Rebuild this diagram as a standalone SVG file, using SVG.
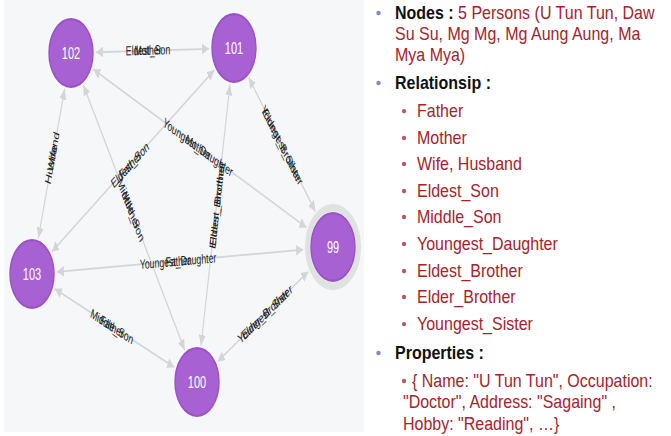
<svg xmlns="http://www.w3.org/2000/svg" width="671" height="436" viewBox="0 0 671 436">
<defs>
<style>
.edge{stroke:#d3d5d7;stroke-width:1.2;fill:none;marker-start:url(#arr);marker-end:url(#arr)}
.elab{font-family:"Liberation Sans",Arial,sans-serif;font-size:8.7px;fill:#1e1e1e;text-anchor:middle}
.node{fill:#a761d2;stroke:#9a52c6;stroke-width:1.4}
.nlab{font-family:"Liberation Sans",Arial,sans-serif;font-size:11px;fill:#ffffff;text-anchor:middle}
.t{font-family:"Liberation Sans",Arial,sans-serif;font-size:16px}
.h{font-weight:bold;fill:#111111}
.r{fill:#a8222c}
.b1{fill:#7d8cbc}
.b2{fill:#c0575b}
</style>
<marker id="arr" markerUnits="userSpaceOnUse" markerWidth="7" markerHeight="7" refX="7" refY="3.5" orient="auto-start-reverse">
<path d="M0,0 L7,3.5 L0,7 z" fill="#d3d5d7"/>
</marker>
</defs>
<rect x="0" y="0" width="671" height="436" fill="#ffffff"/>
<rect x="4" y="0" width="360" height="432" fill="#f6f7f9"/>
<g transform="scale(1,1.54)">
<g id="connectors">
<line class="edge" x1="96" y1="33.9" x2="209" y2="31.7"/>
<line class="edge" x1="64.7" y1="57.7" x2="38.3" y2="154.7"/>
<line class="edge" x1="83.3" y1="55.2" x2="184.7" y2="227.3"/>
<line class="edge" x1="93.3" y1="45.1" x2="306.5" y2="147.7"/>
<line class="edge" x1="214.2" y1="45.6" x2="51.8" y2="163.5"/>
<line class="edge" x1="230" y1="54.9" x2="201" y2="224.4"/>
<line class="edge" x1="248.7" y1="50.4" x2="315.4" y2="137.4"/>
<line class="edge" x1="56.9" y1="176.5" x2="303.1" y2="162.1"/>
<line class="edge" x1="217.7" y1="234.7" x2="308.2" y2="176.4"/>
<line class="edge" x1="54.8" y1="187.6" x2="174.2" y2="238.4"/>
<g transform="translate(148,32.5) rotate(-1.1)"><text class="elab" dy="0.35em">Eldest_Son</text><text class="elab" dy="0.35em">Mother</text></g>
<g transform="translate(52,102.6) rotate(-74.8)"><text class="elab" dy="0.35em">Husband</text><text class="elab" dy="0.35em">Wife</text></g>
<g transform="translate(131,136.4) rotate(59.5)"><text class="elab" dy="0.35em">Middle_Son</text><text class="elab" dy="0.35em">Mother</text></g>
<g transform="translate(198,95.5) rotate(25.7)"><text class="elab" dy="0.35em">Youngest_Daughter</text><text class="elab" dy="0.35em">Mother</text></g>
<g transform="translate(130,107.1) rotate(-36)"><text class="elab" dy="0.35em">Eldest_Son</text><text class="elab" dy="0.35em">Father</text></g>
<g transform="translate(217,133.1) rotate(-80.3)"><text class="elab" dy="0.35em">Eldest_Brother</text><text class="elab" dy="0.35em">Elder_Brother</text></g>
<g transform="translate(282,94.2) rotate(52.5)"><text class="elab" dy="0.35em">Youngest_Sister</text><text class="elab" dy="0.35em">Eldest_Brother</text></g>
<g transform="translate(178,169.5) rotate(-3.3)"><text class="elab" dy="0.35em">Youngest_Daughter</text><text class="elab" dy="0.35em">Father</text></g>
<g transform="translate(265,203.9) rotate(-32.8)"><text class="elab" dy="0.35em">Youngest_Sister</text><text class="elab" dy="0.35em">Elder_Brother</text></g>
<g transform="translate(112,212) rotate(23)"><text class="elab" dy="0.35em">Middle_Son</text><text class="elab" dy="0.35em">Father</text></g>
</g>
<g id="node-102"><circle class="node" cx="71" cy="34.4" r="22"/><text class="nlab" x="71" y="38.3">102</text></g>
<g id="node-101"><circle class="node" cx="234" cy="31.2" r="22"/><text class="nlab" x="234" y="35.1">101</text></g>
<g id="node-99"><circle cx="333" cy="160.4" r="25.5" fill="none" stroke="#dfe3e0" stroke-width="5"/><circle class="node" cx="333" cy="160.4" r="22"/><text class="nlab" x="333" y="164.3">99</text></g>
<g id="node-103"><circle class="node" cx="32" cy="177.9" r="22"/><text class="nlab" x="32" y="181.8">103</text></g>
<g id="node-100"><circle class="node" cx="197" cy="248.1" r="22"/><text class="nlab" x="197" y="252">100</text></g>
</g>
<g id="legend" transform="scale(1,1.15)">
<ellipse class="b1" cx="378.5" cy="11.3" rx="2.2" ry="1.9"/>
<text class="t" x="395" y="16.52"><tspan class="h">Nodes : </tspan><tspan class="r">5 Persons (U Tun Tun, Daw</tspan></text>
<text class="t r" x="395" y="34.78">Su Su, Mg Mg, Mg Aung Aung, Ma</text>
<text class="t r" x="395" y="53.04">Mya Mya)</text>
<ellipse class="b1" cx="378.5" cy="72.2" rx="2.2" ry="1.9"/>
<text class="t h" x="395" y="77.39">Relationsip :</text>
<ellipse class="b2" cx="404" cy="96.6" rx="2.2" ry="1.9"/>
<text class="t r" x="417" y="101.74">Father</text>
<ellipse class="b2" cx="404" cy="120" rx="2.2" ry="1.9"/>
<text class="t r" x="417" y="125.22">Mother</text>
<ellipse class="b2" cx="404" cy="142.6" rx="2.2" ry="1.9"/>
<text class="t r" x="417" y="147.83">Wife, Husband</text>
<ellipse class="b2" cx="404" cy="166.1" rx="2.2" ry="1.9"/>
<text class="t r" x="417" y="171.3">Eldest_Son</text>
<ellipse class="b2" cx="404" cy="188.7" rx="2.2" ry="1.9"/>
<text class="t r" x="417" y="193.91">Middle_Son</text>
<ellipse class="b2" cx="404" cy="212.2" rx="2.2" ry="1.9"/>
<text class="t r" x="417" y="217.39">Youngest_Daughter</text>
<ellipse class="b2" cx="404" cy="235.7" rx="2.2" ry="1.9"/>
<text class="t r" x="417" y="240.87">Eldest_Brother</text>
<ellipse class="b2" cx="404" cy="258.3" rx="2.2" ry="1.9"/>
<text class="t r" x="417" y="263.48">Elder_Brother</text>
<ellipse class="b2" cx="404" cy="281.8" rx="2.2" ry="1.9"/>
<text class="t r" x="417" y="286.96">Youngest_Sister</text>
<ellipse class="b1" cx="378.5" cy="307" rx="2.2" ry="1.9"/>
<text class="t h" x="395" y="312.17">Properties :</text>
<ellipse class="b2" cx="404" cy="331.3" rx="2.2" ry="1.9"/>
<text class="t r" x="412" y="336.52">{ Name: "U Tun Tun", Occupation:</text>
<text class="t r" x="403" y="354.78">"Doctor", Address: "Sagaing" ,</text>
<text class="t r" x="403" y="373.91">Hobby: "Reading", …}</text>
</g>
</svg>
